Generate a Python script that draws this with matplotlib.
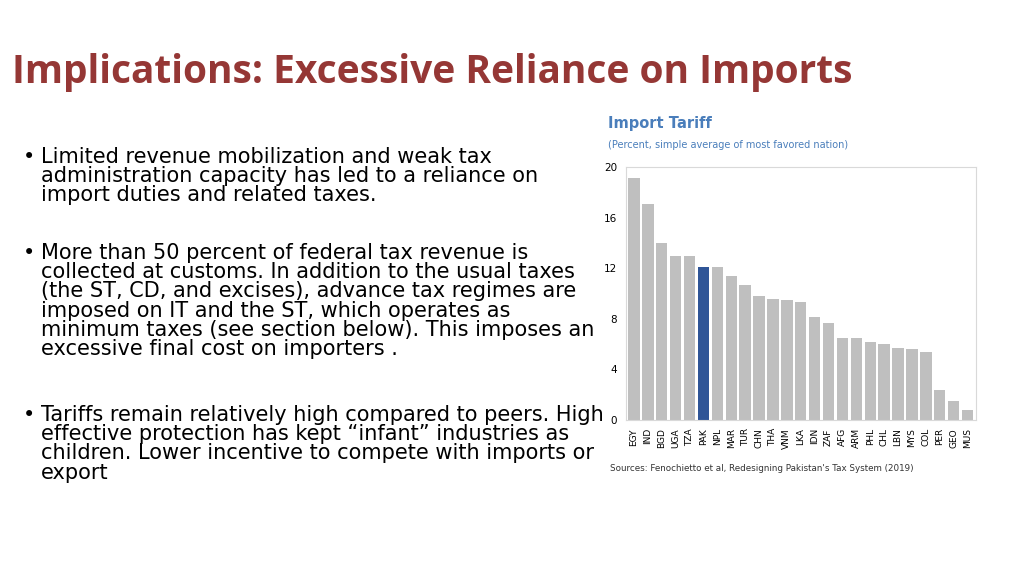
import matplotlib
matplotlib.use("Agg")
import matplotlib.pyplot as plt

countries = ["EGY","IND","BGD","UGA","TZA","PAK","NPL","MAR","TUR","CHN","THA","VNM","LKA","IDN","ZAF","AFG","ARM","PHL","CHL","LBN","MYS","COL","PER","GEO","MUS"]
tariffs = [19.1,17.1,14.0,13.0,13.0,12.1,12.1,11.4,10.7,9.8,9.6,9.5,9.3,8.1,7.7,6.5,6.5,6.2,6.0,5.7,5.6,5.4,2.4,1.5,0.8]
yticks = [0,4,8,12,16,20]
highlight = "PAK"

fig = plt.figure(figsize=(10.24,5.76), dpi=100)
fig.text(0.012, 0.875, "Implications: Excessive Reliance on Imports", fontsize=28, fontweight="bold",
         color="#953735", family="Open Sans", va="center")

bullets = [
    (0.745, "Limited revenue mobilization and weak tax\nadministration capacity has led to a reliance on\nimport duties and related taxes."),
    (0.578, "More than 50 percent of federal tax revenue is\ncollected at customs. In addition to the usual taxes\n(the ST, CD, and excises), advance tax regimes are\nimposed on IT and the ST, which operates as\nminimum taxes (see section below). This imposes an\nexcessive final cost on importers ."),
    (0.297, "Tariffs remain relatively high compared to peers. High\neffective protection has kept \u201cinfant\u201d industries as\nchildren. Lower incentive to compete with imports or\nexport"),
]
for y, t in bullets:
    fig.text(0.022, y, "\u2022", fontsize=15, va="top", family="DejaVu Sans")
    fig.text(0.040, y, t, fontsize=15, va="top", family="DejaVu Sans", linespacing=0.95)

ax = fig.add_axes([0.611, 0.271, 0.342, 0.439])
colors = ["#2F5597" if c == highlight else "#BFBFBF" for c in countries]
ax.bar(range(len(countries)), tariffs, width=0.82, color=colors)
ax.set_xlim(-0.6, len(countries)-0.4)
ax.set_ylim(0, 20)
ax.set_yticks(yticks)
ax.set_yticklabels([str(v) for v in yticks], fontsize=7.5)
ax.set_xticks(range(len(countries)))
ax.set_xticklabels(countries, rotation=90, fontsize=6.5)
ax.tick_params(length=0, pad=6)
for s in ax.spines.values():
    s.set_color("#D9D9D9")
fig.text(0.594, 0.778, "Import Tariff", fontsize=10.5, fontweight="bold", color="#4A7EBB")
fig.text(0.594, 0.743, "(Percent, simple average of most favored nation)", fontsize=7, color="#4A7EBB")
fig.text(0.596, 0.183, "Sources: Fenochietto et al, Redesigning Pakistan's Tax System (2019)", fontsize=6.3, color="#333333")

fig.savefig("out.png", dpi=100)
